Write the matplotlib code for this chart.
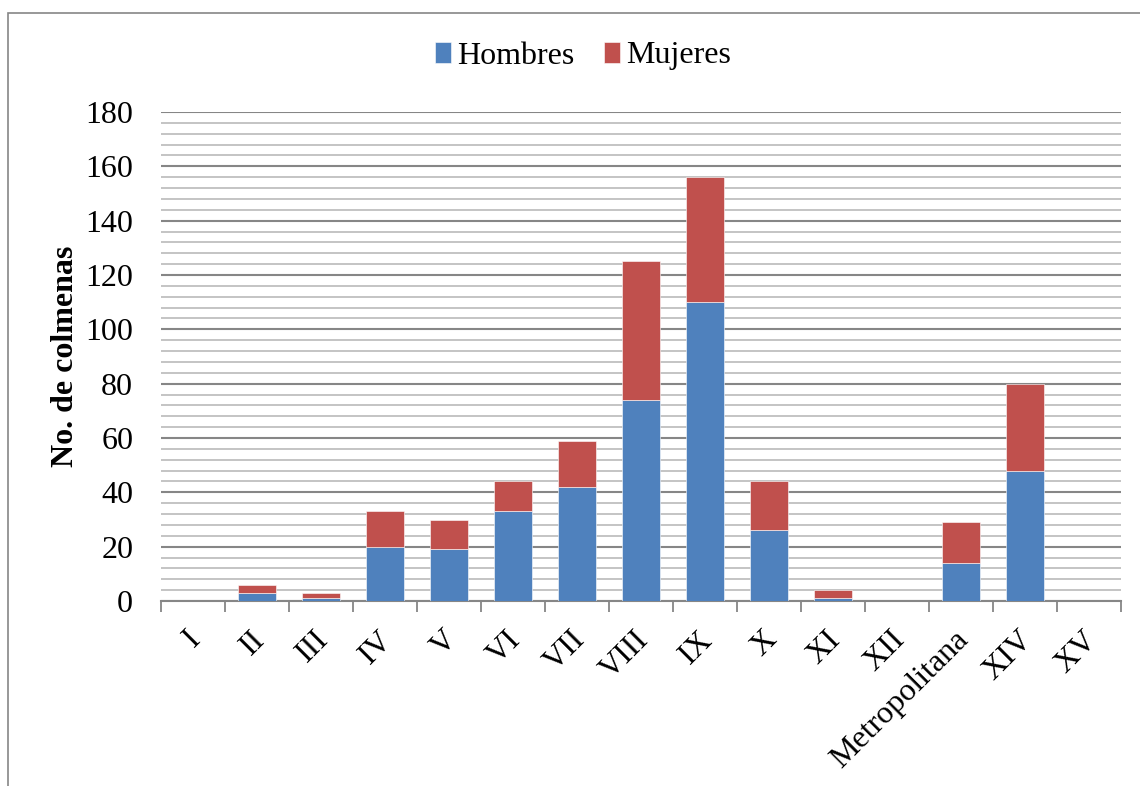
import numpy as np
import matplotlib
matplotlib.use('agg')
import matplotlib.pyplot as plt
from matplotlib.patches import Rectangle
from matplotlib.transforms import ScaledTranslation

regiones = ['I', 'II', 'III', 'IV', 'V', 'VI', 'VII', 'VIII', 'IX', 'X', 'XI', 'XII',
            'Metropolitana', 'XIV', 'XV']
hombres = [0, 3, 1, 20, 19, 33, 42, 74, 110, 26, 1, 0, 14, 48, 0]
mujeres = [0, 3, 2, 13, 11, 11, 17, 51, 46, 18, 3, 0, 15, 32, 0]

plt.rcParams['font.family'] = ['Liberation Serif', 'DejaVu Serif']

fig = plt.figure(figsize=(11.4, 7.86), dpi=100)
ax = fig.add_axes([161/1140, 1 - 601/786, 960/1140, 489/786])

# outer chart border
fig.patches.append(Rectangle((8/1140, -0.01), 1.2, 1 - 13/786 + 0.01, transform=fig.transFigure,
                             fill=False, edgecolor='#868686', linewidth=1.2))

x = np.arange(len(regiones))
azul = '#4F81BD'
rojo = '#C0504D'
ax.bar(x, hombres, width=0.58, color=azul, edgecolor='white', linewidth=0.4, label='Hombres', zorder=3)
ax.bar(x, mujeres, width=0.58, bottom=hombres, color=rojo, edgecolor='white', linewidth=0.4,
       label='Mujeres', zorder=3)

ax.set_xlim(-0.5, len(regiones) - 0.5)
ax.set_ylim(0, 180)
ax.set_yticks(np.arange(0, 181, 20))
ax.set_yticks(np.arange(0, 181, 4), minor=True)
ax.grid(axis='y', which='minor', color='#BFBFBF', linewidth=1.3, zorder=0)
ax.grid(axis='y', which='major', color='#868686', linewidth=1.5, zorder=1)
ax.tick_params(axis='y', which='both', length=0, labelsize=23, pad=20)

# category ticks between bars
ax.set_xticks(np.arange(-0.5, len(regiones), 1))
ax.set_xticklabels([])
ax.set_xticks(x, minor=True)
ax.set_xticklabels(regiones, minor=True, rotation=45, ha='right', rotation_mode='anchor', fontsize=23)
ax.tick_params(axis='x', which='major', length=8, width=1.3, color='#868686', direction='out')
ax.tick_params(axis='x', which='minor', length=0, pad=16)
shift = ScaledTranslation(-7/100, -2/100, fig.dpi_scale_trans)
for lbl in ax.get_xticklabels(minor=True):
    lbl.set_transform(lbl.get_transform() + shift)

for s in ['top', 'right', 'left']:
    ax.spines[s].set_visible(False)
ax.spines['bottom'].set_color('#868686')
ax.spines['bottom'].set_linewidth(1.5)

ax.set_ylabel('No. de colmenas', fontsize=23, fontweight='bold', labelpad=4)

fig.legend(*ax.get_legend_handles_labels(), loc='center', bbox_to_anchor=(583/1140, 1 - 56/786),
           ncol=2, frameon=False, fontsize=23, handlelength=0.5, handleheight=0.65,
           handletextpad=0.2, columnspacing=0.9)

fig.savefig('out.png', dpi=100)
